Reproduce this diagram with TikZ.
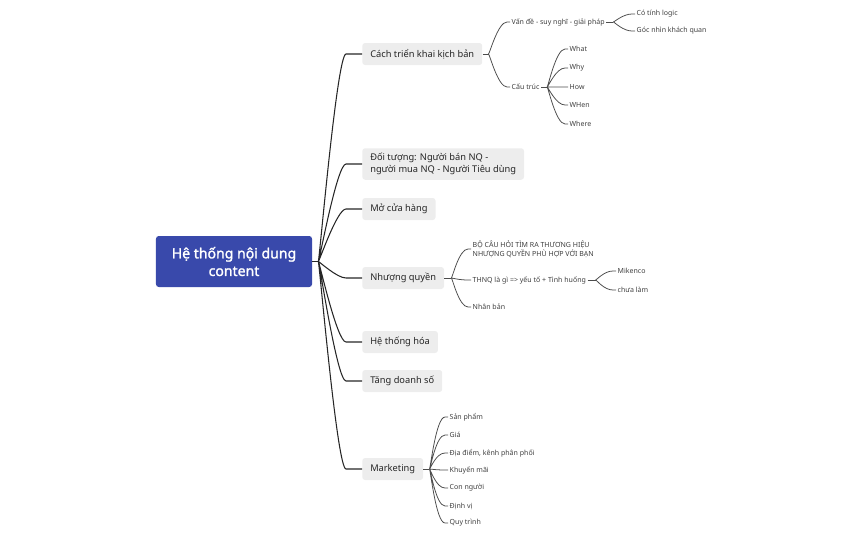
\documentclass[tikz,border=0pt]{standalone}
\usepackage{fontspec}
\setmainfont{Noto Sans}
\newfontfamily\rootfont{Noto Sans}[FakeBold=1.6]
\usepackage{xcolor}
\usetikzlibrary{calc, positioning}
\definecolor{rootblue}{RGB}{57,73,171}
\definecolor{topicgray}{RGB}{237,237,237}
\tikzset{
  %% Central topic
  rootbox/.style={
    rectangle, rounded corners=2pt,
    fill=rootblue, text=white, align=center,
    font=\fontsize{10}{12.5}\rootfont,
    minimum width=3.9cm, minimum height=1.275cm, inner sep=2pt
  },
  %% Main topic box
  topic/.style={
    rectangle, rounded corners=2pt,
    fill=topicgray, text=black!85, align=left, anchor=west,
    font=\fontsize{6.6}{8.8}\selectfont,
    inner xsep=0.2cm, minimum height=0.55cm
  },
  %% Plain subtopic text
  subnode/.style={
    anchor=west, inner sep=1pt, align=left, text=black!75,
    font=\fontsize{5}{6.2}\selectfont
  },
  %% Connectors
  mainline/.style={draw=black!85, line width=0.75pt},
  subline/.style={draw=black!70, line width=0.55pt},
  fan/.style={to path={.. controls ($(\tikztostart)+(1,0)$)
      and ($(\tikztotarget)+(-#1-9,0)$) .. ($(\tikztotarget)+(-#1,0)$)
      -- (\tikztotarget)}},
  fan/.default=3,
}

\begin{document}
\begin{tikzpicture}[x=0.025cm, y=-0.025cm]
  \useasboundingbox (0,0) rectangle (864,535);

  %% Central topic
  \node[rootbox] (root) at (234,261.5) {Hệ thống nội dung\\content};

  %% Main topics
  \node[topic] (trienkhai) at (362,54)  {Cách triển khai kịch bản};
  \node[topic] (doituong)  at (362,164) {Đối tượng: Người bán NQ -\\người mua NQ - Người Tiêu dùng};
  \node[topic] (cuahang)   at (362,209) {Mở cửa hàng};
  \node[topic] (nhuong)    at (362,278) {Nhượng quyền};
  \node[topic] (hethong)   at (362,342) {Hệ thống hóa};
  \node[topic] (doanhso)   at (362,381) {Tăng doanh số};
  \node[topic] (mkt)       at (362,469) {Marketing};

  %% Cách triển khai kịch bản
  \node[subnode] (vande)   at (510,22)  {Vấn đề - suy nghĩ - giải pháp};
  \node[subnode] (logic)   at (635,14)  {Có tính logic};
  \node[subnode] (khach)   at (635,31)  {Góc nhìn khách quan};
  \node[subnode] (cautruc) at (510,87)  {Cấu trúc};
  \node[subnode] (what)    at (568,49)  {What};
  \node[subnode] (why)     at (568,68)  {Why};
  \node[subnode] (how)     at (568,87)  {How};
  \node[subnode] (when)    at (568,105) {WHen};
  \node[subnode] (where)   at (568,124) {Where};

  %% Nhượng quyền
  \node[subnode] (bocauhoi) at (471,249) {BỘ CÂU HỎI TÌM RA THƯƠNG HIỆU\\NHƯỢNG QUYỀN PHÙ HỢP VỚI BẠN};
  \node[subnode] (thnq)     at (471,280) {THNQ là gì => yếu tố + Tình huống};
  \node[subnode] (nhanban)  at (471,307) {Nhân bản};
  \node[subnode] (mikenco)  at (616,271) {Mikenco};
  \node[subnode] (chualam)  at (616,290) {chưa làm};

  %% Marketing
  \node[subnode] (sanpham)  at (448,417) {Sản phẩm};
  \node[subnode] (gia)      at (448,435) {Giá};
  \node[subnode] (diadiem)  at (448,453) {Địa điểm, kênh phân phối};
  \node[subnode] (khuyen)   at (448,470) {Khuyến mãi};
  \node[subnode] (connguoi) at (448,488) {Con người};
  \node[subnode] (dinhvi)   at (448,506) {Định vị};
  \node[subnode] (quytrinh) at (448,523) {Quy trình};

  %% Root branches
  \draw[mainline] (root.east) -- ++(6,0) coordinate (rj);
  \draw[mainline] (rj) to[fan=16] (trienkhai.west)
                  (rj) to[fan=16] (doituong.west)
                  (rj) to[fan=16] (cuahang.west)
                  (rj) to[fan=16] (nhuong.west)
                  (rj) to[fan=16] (hethong.west)
                  (rj) to[fan=16] (doanhso.west)
                  (rj) to[fan=16] (mkt.west);

  %% Sub branches
  \draw[subline] (trienkhai.east) -- ++(6,0) coordinate (j1);
  \draw[subline] (j1) to[fan] (vande.west) (j1) to[fan] (cautruc.west);
  \draw[subline] (vande.east) -- ++(7,0) coordinate (j2);
  \draw[subline] (j2) to[fan] (logic.west) (j2) to[fan] (khach.west);
  \draw[subline] (cautruc.east) -- ++(6,0) coordinate (j3);
  \draw[subline] (j3) to[fan] (what.west)  (j3) to[fan] (why.west)
                 (j3) to[fan] (how.west)   (j3) to[fan] (when.west)
                 (j3) to[fan] (where.west);
  \draw[subline] (nhuong.east) -- ++(7,0) coordinate (j4);
  \draw[subline] (j4) to[fan] (bocauhoi.west) (j4) to[fan] (thnq.west)
                 (j4) to[fan] (nhanban.west);
  \draw[subline] (thnq.east) -- ++(8,0) coordinate (j5);
  \draw[subline] (j5) to[fan] (mikenco.west) (j5) to[fan] (chualam.west);
  \draw[subline] (mkt.east) -- ++(6,0) coordinate (j6);
  \draw[subline] (j6) to[fan] (sanpham.west)  (j6) to[fan] (gia.west)
                 (j6) to[fan] (diadiem.west)  (j6) to[fan] (khuyen.west)
                 (j6) to[fan] (connguoi.west) (j6) to[fan] (dinhvi.west)
                 (j6) to[fan] (quytrinh.west);

\end{tikzpicture}
\end{document}
